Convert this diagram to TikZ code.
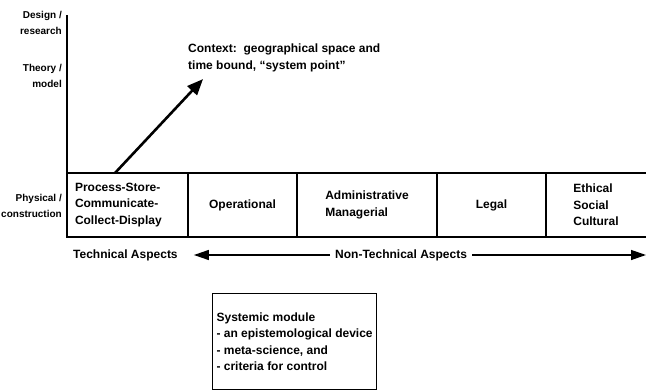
\documentclass[tikz,border=0pt]{standalone}
\usepackage{fontspec}
\setmainfont{Liberation Sans}
\usetikzlibrary{arrows.meta,positioning}
\tikzset{
  cell/.style={draw, line width=1.4pt, minimum height=64pt, inner sep=0pt, outer sep=0pt, align=left},
  side/.style={font=\fontsize{10}{16}\selectfont\bfseries, align=right, anchor=east, inner sep=0pt},
  plain/.style={inner sep=0pt, align=left}
}

\begin{document}
\begin{tikzpicture}[x=1pt, y=-1pt, font=\fontsize{12}{16.5}\selectfont\bfseries, node distance=0pt]
        \useasboundingbox (0,0) rectangle (646,391);

        % Draw level labels.
        \node[side] (design) at (62,23) {Design /\\research};
        \node[side] (theory) at (62,76) {Theory /\\model};
        \node[side] (physical) at (62,206) {Physical /\\construction};

        % Draw aspect cells.
        \node[cell, minimum width=121pt, inner xsep=8pt, text width=105pt, anchor=north west] (pscd) at (67,173) {Process-Store-\\Communicate-\\Collect-Display};
        \node[cell, minimum width=109pt, right=of pscd] (oper) {Operational};
        \node[cell, minimum width=140pt, right=of oper] (admin) {Administrative\\Managerial};
        \node[cell, minimum width=109pt, right=of admin] (legal) {Legal};
        \node[cell, draw=none, minimum width=100pt, right=of legal] (ethic) {Ethical\\Social\\Cultural};
        \draw[line width=1.4pt] (legal.north east) -- (ethic.north east)
                                (legal.south east) -- (ethic.south east);

        % Draw level axis.
        \coordinate (top) at (67,15);
        \draw[line width=1.6pt] (pscd.north west) -- (top);

        % Draw context arrow.
        \node[plain, anchor=north west] (context) at (188,44) {Context:\ \ geographical space and\\time bound, ``system point''};
        \coordinate (foot) at (115,173);
        \draw[line width=2.6pt, -{Triangle[length=16pt,width=13pt]}] (foot) -- ([xshift=15pt,yshift=-7pt]context.south west);

        % Draw aspect arrows.
        \node[plain, anchor=west] (tech) at (73,255) {Technical Aspects};
        \node[plain, anchor=west] (nontech) at (335,255) {Non-Technical Aspects};
        \coordinate (rightend) at (646,255);
        \draw[line width=1.3pt, -{Triangle[length=15pt,width=10pt]}] ([xshift=-5pt]nontech.west) -- ([xshift=16pt]tech.east);
        \draw[line width=1.3pt, -{Triangle[length=15pt,width=10pt]}] ([xshift=5pt]nontech.east) -- (rightend);

        % Draw systemic module.
        \node[draw, line width=1.2pt, minimum width=164pt, minimum height=96pt, align=left, anchor=north west] (module) at (212,293) {Systemic module\\- an epistemological device\\- meta-science, and\\- criteria for control};
\end{tikzpicture}
\end{document}
